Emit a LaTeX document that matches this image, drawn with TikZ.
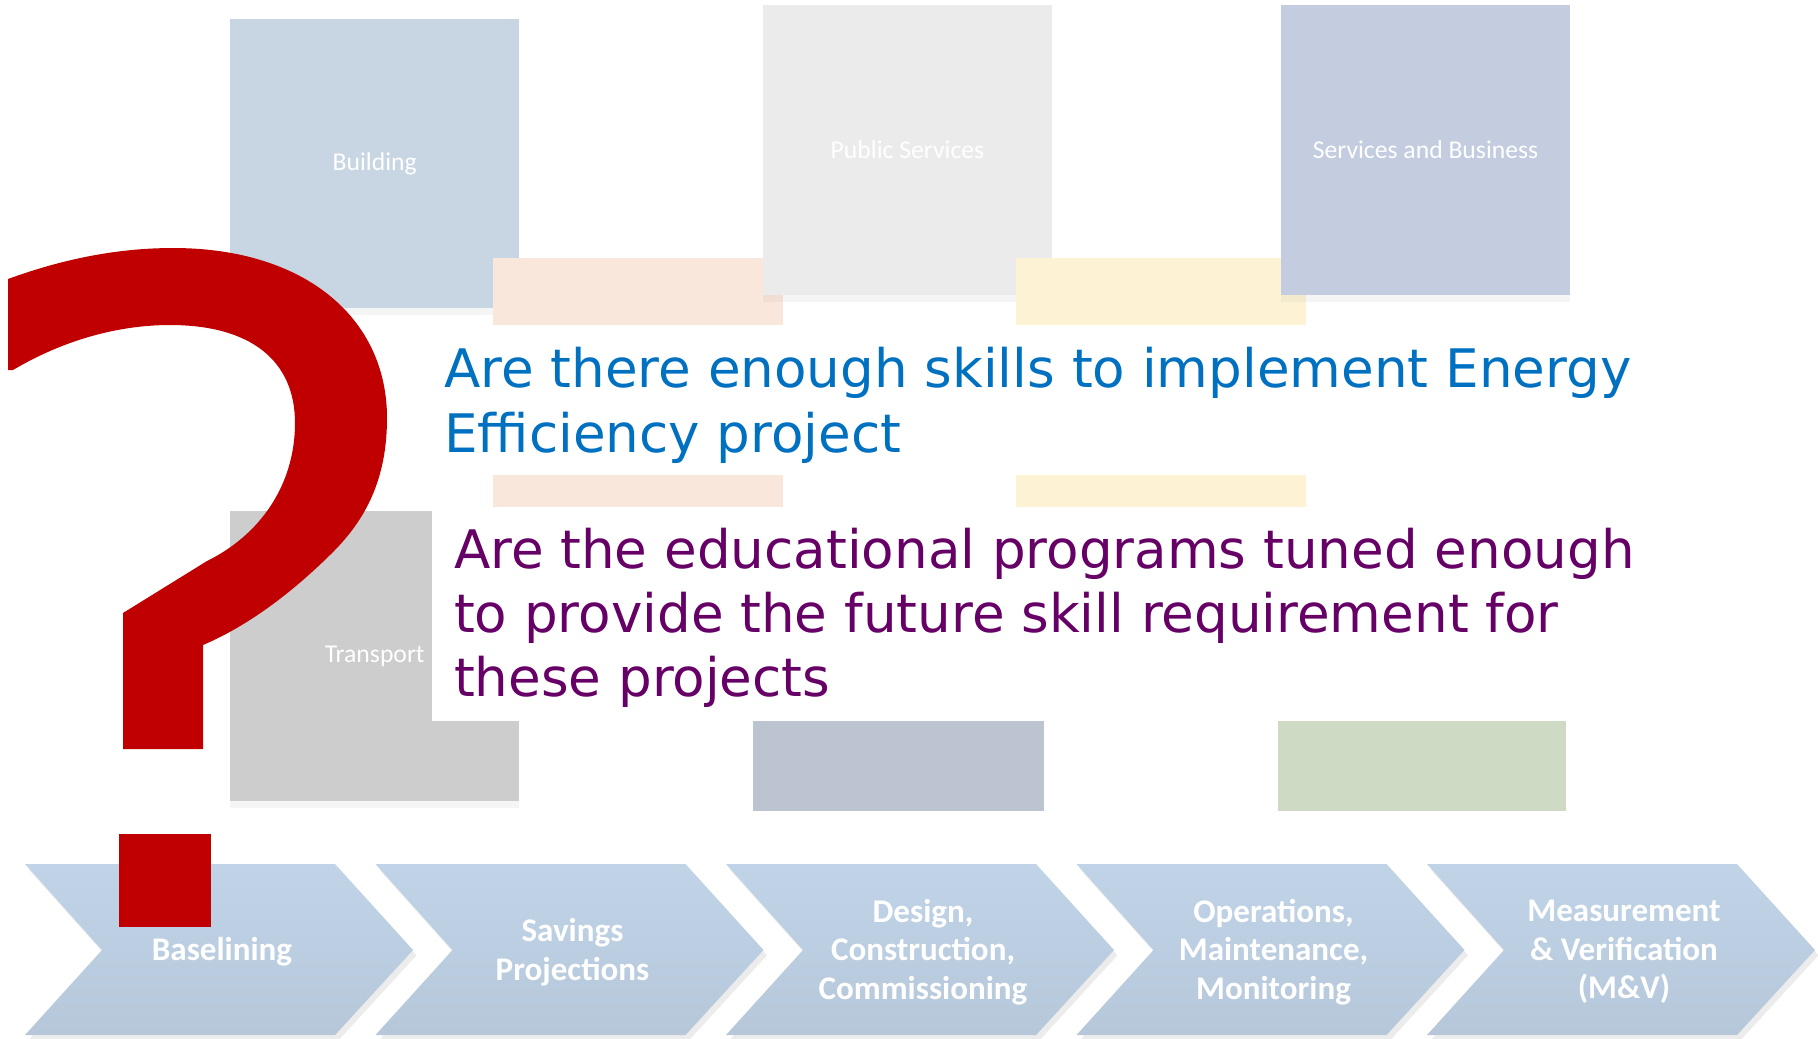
\documentclass[tikz,border=0pt]{standalone}
\usepackage{fontspec}
\usepackage{tikz}
\usetikzlibrary{shadows}
\newfontfamily\qfont{DejaVu Sans}
\newfontfamily\calfont{Carlito}
\definecolor{qblue}{HTML}{0070C0}
\definecolor{qpurple}{HTML}{660066}
\definecolor{qred}{HTML}{C00000}
\definecolor{bldcol}{HTML}{C8D6E3}
\definecolor{pubcol}{HTML}{EBEBEB}
\definecolor{sbcol}{HTML}{C3CDDF}
\definecolor{trcol}{HTML}{CDCDCD}
\definecolor{peach}{HTML}{FAE7DB}
\definecolor{ylw}{HTML}{FDF2D3}
\definecolor{slate}{HTML}{BCC3D1}
\definecolor{sage}{HTML}{CFDAC4}
\definecolor{chevtop}{HTML}{C1D4E7}
\definecolor{chevbot}{HTML}{B6C7DA}
\tikzset{
  sector/.style={inner sep=0pt, minimum size=2.89cm, text=white,
    font=\calfont\fontsize{7.3}{9}\selectfont,
    drop shadow={shadow xshift=0pt, shadow yshift=-2pt, opacity=.08}},
  bar/.style={inner sep=0pt, minimum width=2.9cm},
  chev/.style={top color=chevtop, bottom color=chevbot,
    drop shadow={shadow xshift=1pt, shadow yshift=-1.5pt, opacity=.15}},
  stage/.style={text=white, align=center, inner sep=0pt,
    font=\calfont\bfseries\fontsize{9.4}{11}\selectfont},
  question/.style={anchor=base west, align=left, inner sep=0pt}
}
\begin{document}
\begin{tikzpicture}[x=0.01cm,y=-0.01cm]
\useasboundingbox (0,0) rectangle (1818,1038);
\fill[white] (0,0) rectangle (1818,1038);

\node (bld) at (374.7,163.3) [sector,fill=bldcol] {Building};
\node (pch1) at (637.7,291.7) [bar,fill=peach,minimum height=0.67cm] {};
\node (pub) at (907.5,150) [sector,fill=pubcol] {Public Services};
\node (ylw1) at (1161.2,291.7) [bar,fill=ylw,minimum height=0.67cm] {};
\node (sb) at (1425.5,150) [sector,fill=sbcol] {Services and Business};
\node (pch2) at (637.7,490.8) [bar,fill=peach,minimum height=0.317cm] {};
\node (ylw2) at (1161.2,490.8) [bar,fill=ylw,minimum height=0.317cm] {};
\node (trn) at (374.7,656) [sector,fill=trcol] {Transport};
\fill[white] (432,510) rectangle (1660,721);
\node (slt) at (898.5,765.8) [bar,fill=slate,minimum height=0.896cm] {};
\node (grn) at (1421.8,765.8) [bar,fill=sage,minimum height=0.896cm,minimum width=2.88cm] {};

\foreach \lbl [count=\i from 0] in {{Baselining},{Savings\\Projections},
    {Design,\\Construction,\\Commissioning},{Operations,\\Maintenance,\\Monitoring},
    {Measurement\\\& Verification\\(M\&V)}} {
  \pgfmathsetmacro\L{25+350.5*\i}
  \path[chev] (\L,864) -- ++(310,0) -- ++(78,86) -- ++(-78,85) -- ++(-310,0)
    -- ++(77,-85) -- cycle;
  \node (st\i) at (\L+197,952) [stage] {\lbl};
}

\node (qa) at (443.5,452.3) [question,text=qblue,font=\qfont\fontsize{15.1}{18.4}\selectfont]
  {Are there enough skills to implement Energy\\Efficiency project};
\node (qb) at (453.3,696.3) [question,text=qpurple,font=\qfont\fontsize{15.1}{18.2}\selectfont]
  {Are the educational programs tuned enough\\to provide the future skill requirement for\\these projects};

\fill[qred] (8,279) .. controls (60,260) and (115,248) .. (173,248)
  .. controls (305,248) and (387,318) .. (387,418)
  .. controls (387,480) and (365,520) .. (333,552)
  .. controls (295,590) and (250,625) .. (203,645)
  -- (203,749) -- (123,749) -- (123,613) -- (207,561)
  .. controls (260,535) and (295,485) .. (295,423)
  .. controls (295,360) and (250,325) .. (170,325)
  .. controls (110,325) and (55,345) .. (13,370)
  -- (8,370) -- cycle;
\fill[qred] (119,834) rectangle (211,927);
\end{tikzpicture}
\end{document}
